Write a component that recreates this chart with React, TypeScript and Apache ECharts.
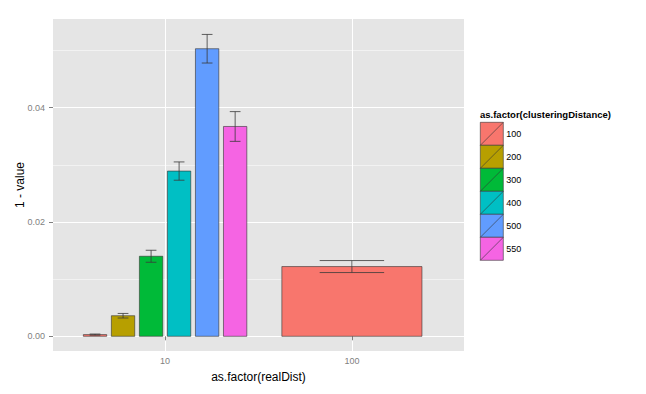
import React, { useEffect, useRef } from "react";
import * as echarts from "echarts";

const categories = ["10", "100"];
const groups = ["100", "200", "300", "400", "500", "550"];
const colors = ["#F8766D", "#B79F00", "#00BA38", "#00BFC4", "#619CFF", "#F564E3"];
const meanAt10 = [0.0003, 0.0036, 0.014, 0.0289, 0.0503, 0.0367];
const errAt10 = [0.0001, 0.0004, 0.00105, 0.0016, 0.0025, 0.0026];
const meanAt100 = [0.0122, null, null, null, null, null];
const errAt100 = [0.00105, null, null, null, null, null];
const yMajorTicks = [0, 0.02, 0.04];
const yMinorTicks = [0.01, 0.03, 0.05];

const FONT = "'Liberation Sans', Arial, Helvetica, sans-serif";

export default function App() {
  const ref = useRef<HTMLDivElement>(null);
  useEffect(() => {
    if (!ref.current) return;
    const chart = echarts.init(ref.current, null, { renderer: "svg" });
    const means = [meanAt10, meanAt100];
    const errs = [errAt10, errAt100];
    const counts = means.map((arr) => arr.filter((v) => v != null).length);

    const series = groups.map((g, gi) => {
      const data: number[][] = [];
      means.forEach((arr, ci) => {
        const v = arr[gi];
        if (v == null) return;
        let k = 0;
        for (let j = 0; j < gi; j++) if (arr[j] != null) k++;
        data.push([ci + 1, v, errs[ci][gi] as number, k, counts[ci]]);
      });
      return {
        type: "custom",
        name: g,
        itemStyle: { color: colors[gi], borderColor: "#333", borderWidth: 0.5 },
        data,
        renderItem: (params: any, api: any) => {
          const x = api.value(0);
          const v = api.value(1);
          const e = api.value(2);
          const k = api.value(3);
          const n = api.value(4);
          const slot = 0.9 / n;
          const bw = 0.75 / n;
          const c = x + (k - (n - 1) / 2) * slot;
          const p0 = api.coord([c - bw / 2, 0]);
          const p1 = api.coord([c + bw / 2, v]);
          const wh = (bw * 0.46) / 2;
          const a = api.coord([c - wh, v + e]);
          const b = api.coord([c + wh, v - e]);
          const cx = api.coord([c, 0])[0];
          const es = { stroke: "#3a3a3a", lineWidth: 0.8 };
          return {
            type: "group",
            children: [
              {
                type: "rect",
                shape: { x: p0[0], y: p1[1], width: p1[0] - p0[0], height: p0[1] - p1[1] },
                style: { fill: colors[gi], stroke: "#333", lineWidth: 0.6 },
              },
              { type: "line", shape: { x1: cx, y1: a[1], x2: cx, y2: b[1] }, style: es },
              { type: "line", shape: { x1: a[0], y1: a[1], x2: b[0], y2: a[1] }, style: es },
              { type: "line", shape: { x1: a[0], y1: b[1], x2: b[0], y2: b[1] }, style: es },
            ],
          };
        },
      };
    });

    chart.setOption({
      animation: false,
      textStyle: { fontFamily: FONT },
      grid: {
        left: 53,
        top: 19,
        width: 411,
        height: 332,
        show: true,
        backgroundColor: "#E5E5E5",
        borderWidth: 0,
      },
      xAxis: {
        type: "value",
        min: 0.4,
        max: 2.6,
        name: "as.factor(realDist)",
        nameLocation: "middle",
        nameGap: 20,
        nameMoveOverlap: false,
        nameTextStyle: { fontSize: 12, color: "#000", fontFamily: FONT },
        axisLine: { show: false },
        axisTick: { show: true, length: 4, lineStyle: { color: "#7F7F7F" }, customValues: [1, 2] },
        axisLabel: {
          customValues: [1, 2],
          formatter: (v: number) => categories[Math.round(v) - 1],
          fontSize: 9,
          color: "#7F7F7F",
          margin: 5,
          fontFamily: FONT,
        },
        splitLine: { show: true, lineStyle: { color: "#FFFFFF", width: 1 } },
      },
      yAxis: [
        {
          type: "value",
          min: -0.00257,
          max: 0.0555,
          name: "1 - value",
          nameLocation: "middle",
          nameGap: 27,
          nameMoveOverlap: false,
          nameRotate: 90,
          nameTextStyle: { fontSize: 12, color: "#000", fontFamily: FONT },
          axisLine: { show: false },
          axisTick: { show: true, length: 4, lineStyle: { color: "#7F7F7F" }, customValues: yMajorTicks },
          axisLabel: {
            customValues: yMajorTicks,
            formatter: (v: number) => v.toFixed(2),
            fontSize: 9,
            color: "#7F7F7F",
            margin: 8,
            fontFamily: FONT,
          },
          splitLine: { show: true, lineStyle: { color: "#FFFFFF", width: 1 } },
        },
        {
          type: "value",
          min: -0.00257,
          max: 0.0555,
          position: "left",
          axisLine: { show: false },
          axisTick: { show: false, customValues: yMinorTicks },
          axisLabel: { show: false, customValues: yMinorTicks },
          splitLine: { show: true, lineStyle: { color: "#F2F2F2", width: 1 } },
        },
      ],
      legend: {
        orient: "vertical",
        left: 480,
        top: 122,
        padding: 0,
        itemGap: -0.6,
        itemWidth: 23,
        itemHeight: 23,
        icon: "path://M0,0L23,0L23,23L0,23ZM0,23L23,0",
        itemStyle: { borderColor: "#333", borderWidth: 0.6 },
        textStyle: { fontSize: 9, color: "#000", fontFamily: FONT, padding: [0, 0, 0, -2] },
        selectedMode: false,
        data: groups,
      },
      graphic: [
        {
          type: "text",
          left: 480,
          top: 109,
          style: {
            text: "as.factor(clusteringDistance)",
            fontSize: 9.5,
            fontWeight: "bold",
            fill: "#000",
            fontFamily: FONT,
          },
        },
      ],
      series,
    });
    return () => chart.dispose();
  }, []);
  return (
    <div
      ref={ref}
      style={{ position: "fixed", left: 0, top: 0, width: 646, height: 394, background: "#fff" }}
    />
  );
}
